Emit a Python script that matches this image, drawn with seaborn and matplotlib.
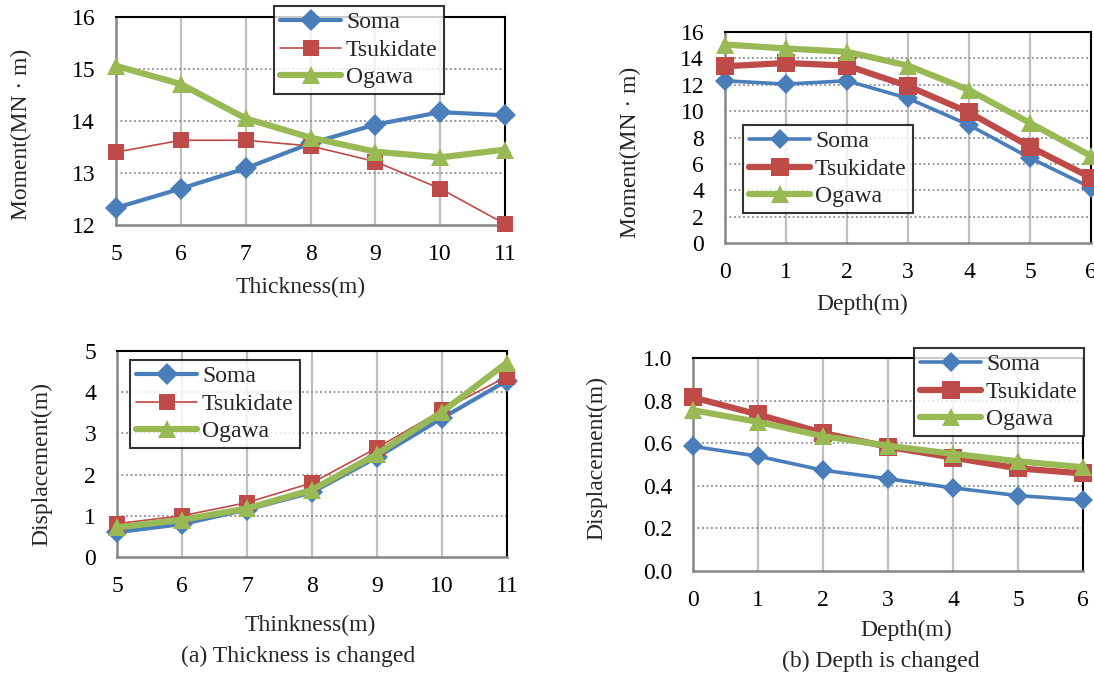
import matplotlib
matplotlib.use("Agg")
import matplotlib.pyplot as plt
import seaborn as sns
import pandas as pd
from matplotlib.ticker import FormatStrFormatter, MultipleLocator

# ---------------- data ----------------
series = ["Soma", "Tsukidate", "Ogawa"]

thickness = [5, 6, 7, 8, 9, 10, 11]
depth = [0, 1, 2, 3, 4, 5, 6]

moment_thk_soma = [12.33, 12.70, 13.09, 13.57, 13.93, 14.17, 14.11]
moment_thk_tsuk = [13.40, 13.63, 13.63, 13.52, 13.22, 12.70, 12.02]
moment_thk_ogawa = [15.06, 14.71, 14.05, 13.68, 13.41, 13.30, 13.45]

moment_dep_soma = [12.30, 12.05, 12.30, 10.97, 8.95, 6.45, 4.20]
moment_dep_tsuk = [13.40, 13.65, 13.45, 11.90, 9.90, 7.30, 4.95]
moment_dep_ogawa = [15.05, 14.75, 14.50, 13.45, 11.60, 9.10, 6.60]

disp_thk_soma = [0.60, 0.80, 1.15, 1.57, 2.42, 3.37, 4.28]
disp_thk_tsuk = [0.81, 1.00, 1.32, 1.80, 2.65, 3.56, 4.38]
disp_thk_ogawa = [0.72, 0.90, 1.18, 1.63, 2.50, 3.52, 4.72]

disp_dep_soma = [0.585, 0.539, 0.473, 0.433, 0.390, 0.354, 0.333]
disp_dep_tsuk = [0.815, 0.735, 0.648, 0.583, 0.532, 0.482, 0.458]
disp_dep_ogawa = [0.755, 0.700, 0.633, 0.588, 0.550, 0.515, 0.487]

colors = {"Soma": "#4A7EBB", "Tsukidate": "#BE4B48", "Ogawa": "#98B954"}
markers = {"Soma": "D", "Tsukidate": "s", "Ogawa": "^"}

# ---------------- style ----------------
sns.set_style("white")
plt.rcParams["font.family"] = ["Liberation Serif", "DejaVu Serif"]

FS = 17
W, H = 1094, 674
fig = plt.figure(figsize=(W / 100, H / 100), dpi=100)


def px_axes(l, t, r, b):
    return fig.add_axes([l / W, 1 - b / H, (r - l) / W, (b - t) / H])


def make_df(x, vals):
    rows = []
    for name, v in zip(series, vals):
        for xi, yi in zip(x, v):
            rows.append({"x": xi, "y": yi, "series": name})
    return pd.DataFrame(rows)


def draw(ax, df, lw, ms):
    for name in series:
        sub = df[df["series"] == name]
        sns.lineplot(data=sub, x="x", y="y", ax=ax, color=colors[name],
                     marker=markers[name], markersize=ms[name],
                     markeredgewidth=0, linewidth=lw[name], label=name,
                     clip_on=False, zorder=3)


def style_axes(ax, xlim, ylim, ystep):
    ax.set_xlim(*xlim)
    ax.set_ylim(*ylim)
    ax.xaxis.set_major_locator(MultipleLocator(1))
    ax.yaxis.set_major_locator(MultipleLocator(ystep))
    ax.grid(False)
    for xv in range(int(xlim[0]) + 1, int(xlim[1])):
        ax.axvline(xv, color="#BFBFBF", lw=1.6, zorder=1)
    yv = ylim[0] + ystep
    while yv < ylim[1] - 1e-9:
        ax.axhline(yv, color="#8C8C8C", lw=1.3, ls=(0, (1, 1.5)), zorder=1)
        yv += ystep
    for s in ["left", "bottom"]:
        ax.spines[s].set_color("#878787")
        ax.spines[s].set_linewidth(1.8)
    for s in ["top", "right"]:
        ax.spines[s].set_color("black")
        ax.spines[s].set_linewidth(1.5)
    ax.tick_params(axis="both", length=0, labelsize=FS, colors="black")
    ax.tick_params(axis="x", pad=14)
    ax.tick_params(axis="y", pad=15)


def place_labels(ax, box, xlabel, ylabel, xlab_xy, ylab_xy):
    l, t, r, b = box
    ax.set_xlabel(xlabel, fontsize=FS)
    ax.set_ylabel(ylabel, fontsize=FS)
    ax.xaxis.set_label_coords((xlab_xy[0] - l) / (r - l), (b - xlab_xy[1]) / (b - t))
    ax.yaxis.set_label_coords((ylab_xy[0] - l) / (r - l), (b - ylab_xy[1]) / (b - t))
    ax.xaxis.label.set_va("center")
    ax.yaxis.label.set_va("center")


def legend(ax, left, top):
    leg = ax.legend(loc="upper left", bbox_to_anchor=(left / W, 1 - top / H),
                    bbox_transform=fig.transFigure, frameon=True,
                    fancybox=False, fontsize=FS, handlelength=2.6,
                    handletextpad=0.2, borderpad=0.25, labelspacing=0.25,
                    borderaxespad=0)
    leg.get_frame().set_edgecolor("black")
    leg.get_frame().set_linewidth(1.5)
    leg.set_zorder(10)
    return leg


thin = {"Soma": 3.0, "Tsukidate": 1.2, "Ogawa": 4.5}
thick = {"Soma": 2.6, "Tsukidate": 4.5, "Ogawa": 4.5}
ms_a = {"Soma": 11, "Tsukidate": 11, "Ogawa": 13}
ms_b = {"Soma": 10, "Tsukidate": 13, "Ogawa": 13}

# (a) top: moment vs thickness
box = (116, 17, 505, 225)
ax1 = px_axes(*box)
style_axes(ax1, (5, 11), (12, 16), 1)
draw(ax1, make_df(thickness, [moment_thk_soma, moment_thk_tsuk, moment_thk_ogawa]), thin, ms_a)
place_labels(ax1, box, "Thickness(m)", "Moment(MN · m)", (301, 287), (21, 134))
legend(ax1, 274, 6)

# (b) top: moment vs depth
box = (725, 32, 1091, 243)
ax2 = px_axes(*box)
style_axes(ax2, (0, 6), (0, 16), 2)
draw(ax2, make_df(depth, [moment_dep_soma, moment_dep_tsuk, moment_dep_ogawa]), thick, ms_b)
place_labels(ax2, box, "Depth(m)", "Moment(MN · m)", (862, 304), (630, 152))
legend(ax2, 743, 125)

# (a) bottom: displacement vs thickness
box = (117, 351, 507, 557)
ax3 = px_axes(*box)
style_axes(ax3, (5, 11), (0, 5), 1)
draw(ax3, make_df(thickness, [disp_thk_soma, disp_thk_tsuk, disp_thk_ogawa]), thin, ms_a)
place_labels(ax3, box, "Thinkness(m)", "Displacement(m)", (310, 625), (42, 464))
legend(ax3, 130, 360)

# (b) bottom: displacement vs depth
box = (693, 358, 1083, 571)
ax4 = px_axes(*box)
style_axes(ax4, (0, 6), (0, 1.0), 0.2)
ax4.yaxis.set_major_formatter(FormatStrFormatter("%.1f"))
draw(ax4, make_df(depth, [disp_dep_soma, disp_dep_tsuk, disp_dep_ogawa]), thick, ms_b)
place_labels(ax4, box, "Depth(m)", "Displacement(m)", (906, 630), (597, 458))
legend(ax4, 914, 348)

fig.text(298 / W, 1 - 656 / H, "(a) Thickness is changed", ha="center", va="center", fontsize=FS)
fig.text(881 / W, 1 - 661 / H, "(b) Depth is changed", ha="center", va="center", fontsize=FS)

fig.savefig("out.png", dpi=100)
